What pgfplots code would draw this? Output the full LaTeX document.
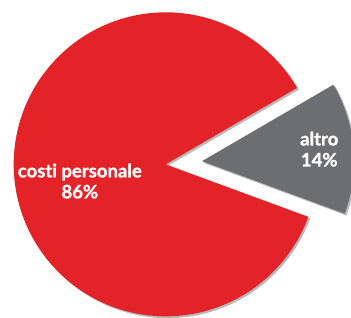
\documentclass[border=0pt]{standalone}
\usepackage{pgfplots}
\pgfplotsset{compat=1.18}
\usepackage{fontspec}
\setmainfont{Lato}[BoldFont={Lato Bold}, BoldFeatures={FakeBold=1.2}, Ligatures=NoCommon]
\definecolor{pieRed}{HTML}{E42328}
\definecolor{pieGray}{HTML}{6D6E72}
\definecolor{shadowGray}{HTML}{B8B9BB}
% data: percentages
\def\valA{86}% costi personale
\def\valB{14}% altro
\def\midB{5}% direction of the exploded slice (degrees)
\pgfmathsetmacro{\startB}{\midB-\valB*3.6/2}
\pgfmathsetmacro{\endB}{\midB+\valB*3.6/2}
\pgfmathsetmacro{\endA}{\endB+\valA*3.6}
\pgfmathsetmacro{\offx}{0.24*cos(\midB)}
\pgfmathsetmacro{\offy}{0.24*sin(\midB)}
\begin{document}
\begin{tikzpicture}
\begin{axis}[
  x=152pt, y=152pt,
  xmin=-1.09, xmax=1.219, ymin=-1.005, ymax=1.081,
  hide axis, clip=true,
]
\path (axis cs:-1.09,-1.005) rectangle (axis cs:1.219,1.081);
% shadows
\addplot[fill=shadowGray, draw=none, domain=\endB:\endA, samples=181, variable=\t]
  ({cos(\t)+0.012},{sin(\t)-0.012}) -- (axis cs:0.012,-0.012) -- cycle;
\addplot[fill=shadowGray, draw=none, domain=\startB:\endB, samples=41, variable=\t]
  ({cos(\t)+\offx+0.012},{sin(\t)+\offy-0.012}) -- (axis cs:\offx+0.012,\offy-0.012) -- cycle;
% slices
\addplot[fill=pieRed, draw=none, domain=\endB:\endA, samples=181, variable=\t]
  ({cos(\t)},{sin(\t)}) -- (axis cs:0,0) -- cycle;
\addplot[fill=pieGray, draw=none, domain=\startB:\endB, samples=41, variable=\t]
  ({cos(\t)+\offx},{sin(\t)+\offy}) -- (axis cs:\offx,\offy) -- cycle;
\node[white, font=\bfseries\fontsize{18.5}{21}\selectfont, align=center]
  at (axis cs:-0.565,-0.11) {costi personale\\\valA\%};
\node[white, font=\bfseries\fontsize{18.5}{21}\selectfont, align=center]
  at (axis cs:1.01,0.10) {altro\\\valB\%};
\end{axis}
\end{tikzpicture}
\end{document}
